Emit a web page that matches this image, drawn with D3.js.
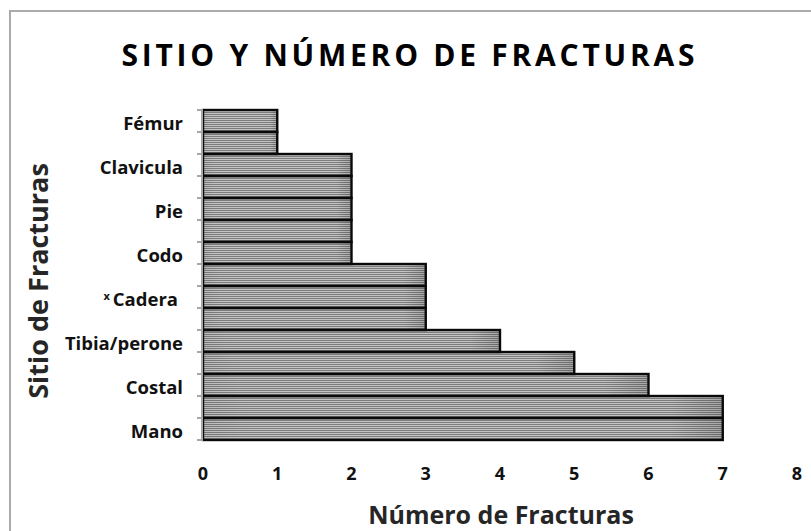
<!DOCTYPE html>
<html>
<head>
<meta charset="utf-8">
<script src="https://cdn.jsdelivr.net/npm/d3@7"></script>
<style>
  body { margin: 0; background: #fff; }
  text { font-family: "Open Sans", Lato, sans-serif; font-weight: bold; }
</style>
</head>
<body>
<div id="chart"></div>
<script>
// bars listed from bottom to top; Excel only printed every other label
var sitios = ['Mano', '', 'Costal', '', 'Tibia/perone', '', 'Cadera', '', 'Codo', '', 'Pie', '', 'Clavicula', '', 'Fémur'];
var fracturas = [7, 7, 6, 5, 4, 3, 3, 3, 2, 2, 2, 2, 2, 1, 1];
var xTicks = [0, 1, 2, 3, 4, 5, 6, 7, 8];

var width = 811,
  height = 531;

var svg = d3
  .select('#chart')
  .append('svg')
  .attr('width', width)
  .attr('height', height);

var defs = svg.append('defs');

// horizontal line fill of the bars
var pat = defs
  .append('pattern')
  .attr('id', 'stripes')
  .attr('patternUnits', 'userSpaceOnUse')
  .attr('width', 4)
  .attr('height', 2);
pat.append('rect').attr('width', 4).attr('height', 2).attr('fill', '#c4c4c4');
pat.append('rect').attr('width', 4).attr('height', 1).attr('fill', '#7c7c7c');

// slight shading towards the bar ends
var grad = defs
  .append('linearGradient')
  .attr('id', 'shade')
  .attr('x1', 0)
  .attr('x2', 1)
  .attr('y1', 0)
  .attr('y2', 0);
grad.append('stop').attr('offset', '0%').attr('stop-color', '#000').attr('stop-opacity', 0.05);
grad.append('stop').attr('offset', '8%').attr('stop-color', '#000').attr('stop-opacity', 0);
grad.append('stop').attr('offset', '90%').attr('stop-color', '#000').attr('stop-opacity', 0);
grad.append('stop').attr('offset', '100%').attr('stop-color', '#000').attr('stop-opacity', 0.15);

// outer frame
svg
  .append('rect')
  .attr('x', 10)
  .attr('y', 11)
  .attr('width', 820)
  .attr('height', 540)
  .attr('fill', 'none')
  .attr('stroke', '#ababab')
  .attr('stroke-width', 2);

var x = d3
  .scaleLinear()
  .domain([0, 8])
  .range([203, 797]);

var y = d3
  .scaleBand()
  .domain(d3.range(sitios.length))
  .range([440, 110])
  .padding(0);

// bars
var bars = svg.append('g');
bars
  .selectAll('rect.bar')
  .data(fracturas)
  .enter()
  .append('rect')
  .attr('class', 'bar')
  .attr('x', x(0))
  .attr('y', function(d, i) {
    return y(i);
  })
  .attr('width', function(d) {
    return x(d) - x(0);
  })
  .attr('height', y.bandwidth())
  .attr('fill', 'url(#stripes)');

bars
  .selectAll('rect.shade')
  .data(fracturas)
  .enter()
  .append('rect')
  .attr('class', 'shade')
  .attr('x', x(0))
  .attr('y', function(d, i) {
    return y(i);
  })
  .attr('width', function(d) {
    return x(d) - x(0);
  })
  .attr('height', y.bandwidth())
  .attr('fill', 'url(#shade)')
  .attr('stroke', '#0a0a0a')
  .attr('stroke-width', 2.4);

// y axis line + ticks on the category boundaries
var yAxis = svg.append('g');
yAxis
  .append('line')
  .attr('x1', x(0) - 1)
  .attr('x2', x(0) - 1)
  .attr('y1', y.range()[1])
  .attr('y2', y.range()[0])
  .attr('stroke', '#a6a6a6')
  .attr('stroke-width', 2);

yAxis
  .selectAll('line.tick')
  .data(d3.range(sitios.length + 1))
  .enter()
  .append('line')
  .attr('class', 'tick')
  .attr('x1', x(0) - 6)
  .attr('x2', x(0))
  .attr('y1', function(i) {
    return i < sitios.length ? y(i) + y.bandwidth() : y(i - 1);
  })
  .attr('y2', function(i) {
    return i < sitios.length ? y(i) + y.bandwidth() : y(i - 1);
  })
  .attr('stroke', '#a6a6a6')
  .attr('stroke-width', 2);

// category labels
var labels = yAxis
  .selectAll('text')
  .data(sitios)
  .enter()
  .filter(function(d) {
    return d !== '';
  })
  .append('text')
  .attr('x', function(d) {
    return d === 'Cadera' ? 178 : 183;
  })
  .attr('y', function(d) {
    return y(sitios.indexOf(d)) + y.bandwidth() / 2 + 9;
  })
  .attr('text-anchor', 'end')
  .attr('font-size', 18.5)
  .attr('fill', '#111');

labels.each(function(d) {
  var t = d3.select(this);
  if (d === 'Cadera') {
    t.append('tspan')
      .attr('font-size', 11)
      .attr('dy', -6)
      .text('x ');
    t.append('tspan')
      .attr('dy', 6)
      .text(d);
  } else {
    t.text(d);
  }
});

// x tick labels (no axis line in the original)
svg
  .append('g')
  .selectAll('text')
  .data(xTicks)
  .enter()
  .append('text')
  .attr('x', function(d) {
    return x(d);
  })
  .attr('y', 480)
  .attr('text-anchor', 'middle')
  .attr('font-size', 18)
  .attr('fill', '#111')
  .text(function(d) {
    return d;
  });

// titles
svg
  .append('text')
  .attr('x', 408)
  .attr('y', 66)
  .attr('text-anchor', 'middle')
  .attr('font-size', 30)
  .attr('textLength', 573)
  .attr('lengthAdjust', 'spacing')
  .attr('fill', '#000')
  .text('SITIO Y NÚMERO DE FRACTURAS');

svg
  .append('text')
  .attr('x', 501)
  .attr('y', 524)
  .attr('text-anchor', 'middle')
  .attr('font-size', 25)
  .attr('fill', '#262626')
  .text('Número de Fracturas');

svg
  .append('text')
  .attr('transform', 'translate(48,281) rotate(-90)')
  .attr('text-anchor', 'middle')
  .attr('font-size', 27)
  .attr('fill', '#262626')
  .text('Sitio de Fracturas');
</script>
</body>
</html>
